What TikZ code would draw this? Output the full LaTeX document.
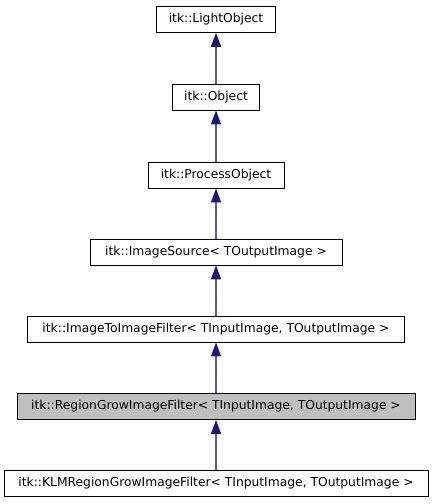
\documentclass[tikz,border=0pt]{standalone}
\usepackage{fontspec}
\setmainfont{DejaVu Sans}
\usetikzlibrary{arrows.meta}
\definecolor{edgeblue}{RGB}{90, 90, 165}
\definecolor{tipblue}{RGB}{25, 25, 112}
\definecolor{grayfill}{RGB}{191, 191, 191}

\begin{document}
\begin{tikzpicture}[
        x=1pt, y=-1pt,
        every node/.style={draw, line width=0.8pt, minimum height=26pt, inner sep=0pt, align=center, font=\fontsize{12.3}{14}\selectfont},
        edge/.style={draw=edgeblue, line width=1.5pt, -{Triangle[length=14pt, width=10pt, color=tipblue, fill=tipblue]}}
      ]
        \useasboundingbox (0,0) rectangle (432,504);
        \node[minimum width=119pt] (light) at (216,19.5) {itk::LightObject};
        \node[minimum width=87pt] (object) at (216,97) {itk::Object};
        \node[minimum width=136pt] (process) at (216,175) {itk::ProcessObject};
        \node[minimum width=252pt] (source) at (216,252) {itk::ImageSource< TOutputImage >};
        \node[minimum width=377pt] (imgfilter) at (216,329) {itk::ImageToImageFilter< TInputImage, TOutputImage >};
        \node[minimum width=398pt, fill=grayfill] (region) at (216,406.5) {itk::RegionGrowImageFilter< TInputImage, TOutputImage >};
        \node[minimum width=424pt] (klm) at (216,483) {itk::KLMRegionGrowImageFilter< TInputImage, TOutputImage >};

        \draw[edge] (object) -- (light);
        \draw[edge] (process) -- (object);
        \draw[edge] (source) -- (process);
        \draw[edge] (imgfilter) -- (source);
        \draw[edge] (region) -- (imgfilter);
        \draw[edge] (klm) -- (region);
      \end{tikzpicture}
\end{document}
